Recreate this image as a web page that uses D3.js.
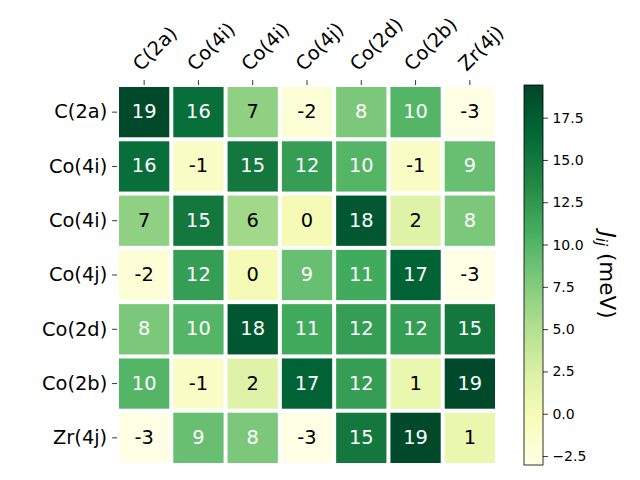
<!DOCTYPE html>
<html>
<head>
<meta charset="utf-8">
<script src="https://cdn.jsdelivr.net/npm/d3@7"></script>
<style>
  html, body { margin: 0; padding: 0; background: #fff; }
  svg { display: block; font-family: "DejaVu Sans", sans-serif; }
</style>
</head>
<body>
<svg id="chart" width="640" height="480"></svg>
<script>
// ---- data ----
const labels = ["C(2a)", "Co(4i)", "Co(4i)", "Co(4j)", "Co(2d)", "Co(2b)", "Zr(4j)"];
const row0 = [19, 16, 7, -2, 8, 10, -3];
const row1 = [16, -1, 15, 12, 10, -1, 9];
const row2 = [7, 15, 6, 0, 18, 2, 8];
const row3 = [-2, 12, 0, 9, 11, 17, -3];
const row4 = [8, 10, 18, 11, 12, 12, 15];
const row5 = [10, -1, 2, 17, 12, 1, 19];
const row6 = [-3, 9, 8, -3, 15, 19, 1];
const matrix = [row0, row1, row2, row3, row4, row5, row6];
const colorMin = -3.03;
const colorMax = 19.43;
const cbarTicks = [-2.5, 0, 2.5, 5, 7.5, 10, 12.5, 15, 17.5];
const cbarLabel = "(meV)";

// ---- layout ----
const svg = d3.select("#chart");
const L = 117, R = 497, T = 85, B = 465;
const idx = d3.range(labels.length);
const x = d3.scaleBand().domain(idx).range([L, R]);
const y = d3.scaleBand().domain(idx).range([T, B]);

// matplotlib YlGn
const ylgn = ["#ffffe5", "#f7fcb9", "#d9f0a3", "#addd8e", "#78c679", "#41ab5d", "#238443", "#006837", "#004529"];
const cmapPos = d3.scaleLinear().domain([colorMin, colorMax]).range([0, ylgn.length - 1]).clamp(true);
const interp = d3.piecewise(d3.interpolateRgb, ylgn);
const color = v => interp(cmapPos(v) / (ylgn.length - 1));

const cells = [];
matrix.forEach((row, i) => row.forEach((v, j) => cells.push({ i, j, v })));

const gap = 2;
svg.append("g").selectAll("rect").data(cells).join("rect")
  .attr("x", d => x(d.j) + gap)
  .attr("y", d => y(d.i) + gap)
  .attr("width", x.bandwidth() - 2 * gap)
  .attr("height", y.bandwidth() - 2 * gap)
  .attr("fill", d => color(d.v));

svg.append("g").selectAll("text").data(cells).join("text")
  .attr("x", d => x(d.j) + x.bandwidth() / 2)
  .attr("y", d => y(d.i) + y.bandwidth() / 2)
  .attr("text-anchor", "middle")
  .attr("dy", "0.31em")
  .attr("font-size", "19.4px")
  .attr("fill", d => d.v >= 7.5 ? "#ffffff" : "#000000")
  .text(d => d3.format("d")(Math.round(d.v)).replace("\u2212", "-"));

// ---- axes ----
const tickLen = 4.9, tickPad = 4.9;
const xAxis = svg.append("g").attr("transform", `translate(0,${T})`)
  .call(d3.axisTop(x).tickSize(tickLen).tickPadding(tickPad).tickFormat(i => labels[i]));
xAxis.select(".domain").remove();
xAxis.selectAll("line").attr("stroke", "#000").attr("stroke-width", 0.8);
xAxis.selectAll("text")
  .attr("font-size", "19.4px")
  .attr("font-family", "DejaVu Sans")
  .attr("fill", "#000")
  .attr("text-anchor", "start")
  .attr("x", 0).attr("y", 0).attr("dy", 0)
  .attr("transform", `translate(0,${-(tickLen + tickPad)}) rotate(-45) translate(0,-4.6)`);

const yAxis = svg.append("g").attr("transform", `translate(${L},0)`)
  .call(d3.axisLeft(y).tickSize(tickLen).tickPadding(tickPad).tickFormat(i => labels[i]));
yAxis.select(".domain").remove();
yAxis.selectAll("line").attr("stroke", "#000").attr("stroke-width", 0.8);
yAxis.selectAll("text")
  .attr("font-size", "19.4px")
  .attr("font-family", "DejaVu Sans")
  .attr("fill", "#000");

// ---- colorbar ----
const cbL = 524, cbR = 543;
const cbScale = d3.scaleLinear().domain([colorMin, colorMax]).range([B, T]);
const defs = svg.append("defs");
const grad = defs.append("linearGradient").attr("id", "cbgrad")
  .attr("x1", 0).attr("y1", 1).attr("x2", 0).attr("y2", 0);
d3.range(0, 1.0001, 0.02).forEach(t => {
  grad.append("stop").attr("offset", t).attr("stop-color", color(colorMin + t * (colorMax - colorMin)));
});
svg.append("rect")
  .attr("x", cbL).attr("y", T).attr("width", cbR - cbL).attr("height", B - T)
  .attr("fill", "url(#cbgrad)")
  .attr("stroke", "#000").attr("stroke-width", 0.8);

const cbAxis = svg.append("g").attr("transform", `translate(${cbR},0)`)
  .call(d3.axisRight(cbScale).tickValues(cbarTicks).tickSize(tickLen).tickPadding(4.5).tickFormat(d3.format(".1f")));
cbAxis.select(".domain").remove();
cbAxis.selectAll("line").attr("stroke", "#000").attr("stroke-width", 0.8);
cbAxis.selectAll("text").attr("font-size", "14px").attr("font-family", "DejaVu Sans").attr("fill", "#000");

const lab = svg.append("text")
  .attr("transform", `translate(600,${(T + B) / 2}) rotate(90)`)
  .attr("text-anchor", "middle")
  .attr("font-size", "21.5px")
  .attr("fill", "#000");
lab.append("tspan").attr("font-style", "italic").text("J");
lab.append("tspan").attr("font-style", "italic").attr("font-size", "15px").attr("dy", "4").text("ij");
lab.append("tspan").attr("dy", "-4").text("\u00a0" + cbarLabel);
</script>
</body>
</html>
